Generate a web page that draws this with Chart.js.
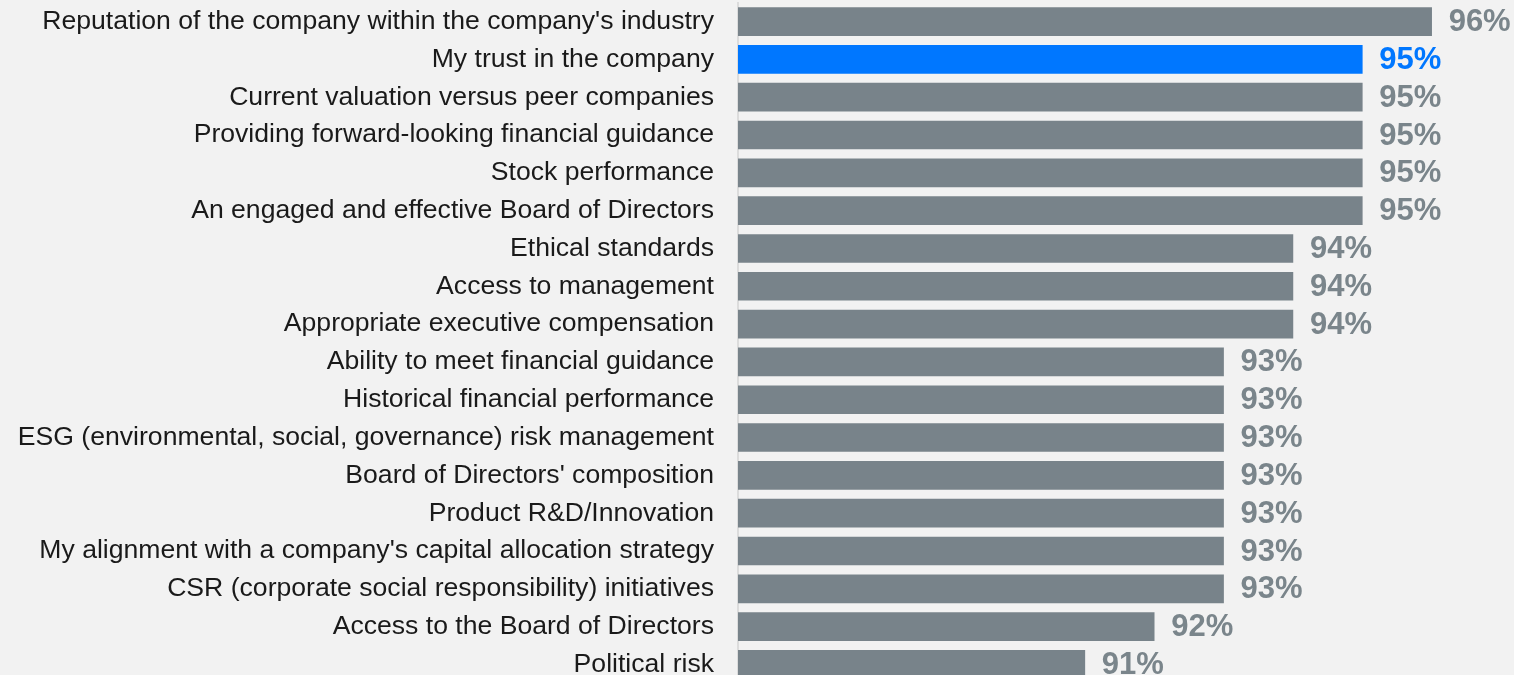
<!DOCTYPE html>
<html>
<head>
<meta charset="utf-8">
<script src="https://cdn.jsdelivr.net/npm/chart.js@4/dist/chart.umd.min.js"></script>
<style>
  html, body { margin: 0; padding: 0; overflow: hidden; background: #f2f2f2; }
  #wrap { position: relative; width: 1514px; height: 686px; }
</style>
</head>
<body>
<div id="wrap"><canvas id="chart"></canvas></div>
<script>
const categories = [
  "Reputation of the company within the company's industry",
  'My trust in the company',
  'Current valuation versus peer companies',
  'Providing forward-looking financial guidance',
  'Stock performance',
  'An engaged and effective Board of Directors',
  'Ethical standards',
  'Access to management',
  'Appropriate executive compensation',
  'Ability to meet financial guidance',
  'Historical financial performance',
  'ESG (environmental, social, governance) risk management',
  "Board of Directors' composition",
  'Product R&D/Innovation',
  "My alignment with a company's capital allocation strategy",
  'CSR (corporate social responsibility) initiatives',
  'Access to the Board of Directors',
  'Political risk',
];
const values = [96, 95, 95, 95, 95, 95, 94, 94, 94, 93, 93, 93, 93, 93, 93, 93, 92, 91];
const highlightIndex = 1;

const GRAY = '#78838a';
const BLUE = '#0077ff';
const colors = values.map((v, i) => (i === highlightIndex ? BLUE : GRAY));

// percentage labels at the end of each bar
const valueLabels = {
  id: 'valueLabels',
  afterDatasetsDraw(chart) {
    const { ctx } = chart;
    const meta = chart.getDatasetMeta(0);
    ctx.save();
    ctx.font = 'bold 31px "Liberation Sans", Arial, sans-serif';
    ctx.textAlign = 'left';
    ctx.textBaseline = 'middle';
    meta.data.forEach((bar, i) => {
      ctx.fillStyle = i === highlightIndex ? BLUE : '#7a858b';
      ctx.fillText(values[i] + '%', bar.x + 17, bar.y + 1);
    });
    ctx.restore();
  },
};

new Chart(document.getElementById('chart'), {
  type: 'bar',
  data: {
    labels: categories,
    datasets: [
      {
        data: values,
        backgroundColor: colors,
        barThickness: 28,
        borderWidth: 0,
      },
    ],
  },
  options: {
    indexAxis: 'y',
    responsive: true,
    maintainAspectRatio: false,
    animation: false,
    layout: { padding: { top: 1, right: 13, bottom: 0, left: 0 } },
    plugins: {
      legend: { display: false },
      tooltip: { enabled: false },
    },
    scales: {
      x: {
        display: false,
        min: 86,
        max: 97,
      },
      y: {
        afterFit: (scale) => {
          scale.width = 738;
        },
        // invisible tick marks give the gap between labels and axis
        grid: {
          display: true,
          drawOnChartArea: false,
          drawTicks: true,
          tickLength: 24,
          color: 'rgba(0,0,0,0)',
        },
        border: { display: true, color: '#dcdcdc', width: 2 },
        ticks: {
          padding: 0,
          color: '#1a1a1a',
          font: { family: '"Liberation Sans", Arial, sans-serif', size: 26.6, lineHeight: 0.2 },
        },
      },
    },
  },
  plugins: [valueLabels],
});
</script>
</body>
</html>
